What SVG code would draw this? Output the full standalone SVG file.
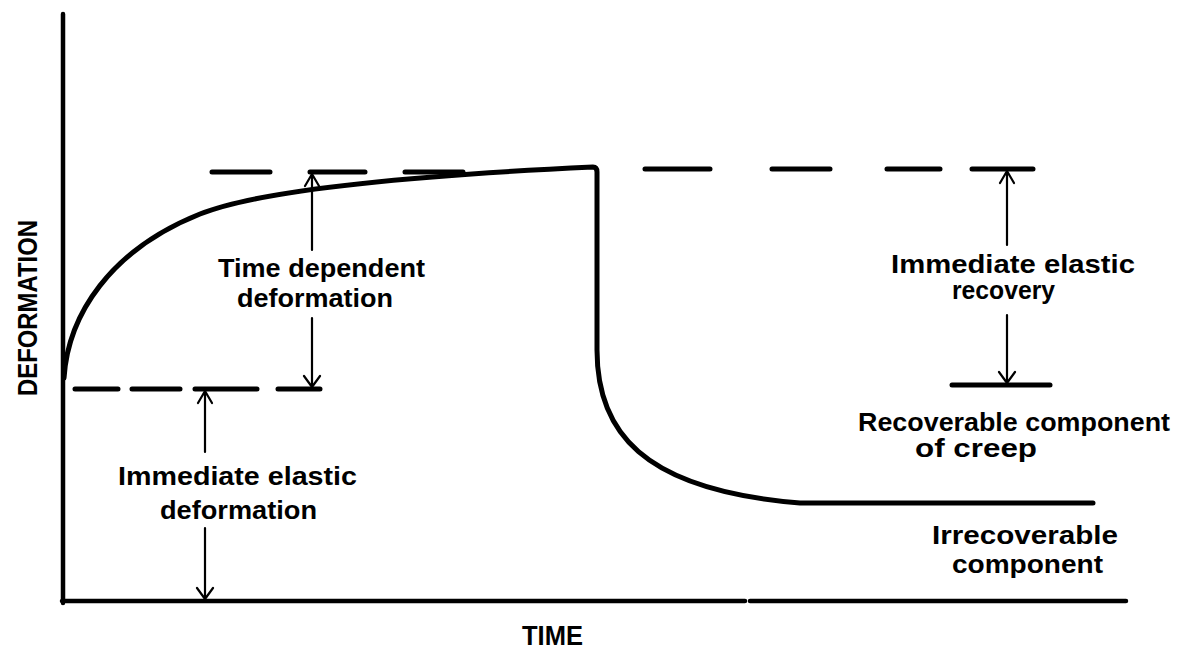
<svg xmlns="http://www.w3.org/2000/svg" width="1184" height="650" viewBox="0 0 1184 650">
<style>
.ax{stroke:#000;stroke-width:4.5;fill:none;stroke-linecap:round}
.cv{stroke:#000;stroke-width:5;fill:none;stroke-linecap:round;stroke-linejoin:round}
.ds{stroke:#000;stroke-width:5;fill:none;stroke-linecap:round}
.ar{stroke:#000;stroke-width:2.2;fill:none;stroke-linecap:round;stroke-linejoin:round}
.t{font-family:"Liberation Sans",Arial,sans-serif;font-weight:bold;font-size:25px;fill:#000}
.big{font-size:27px}
</style>
<rect width="1184" height="650" fill="#fff"/>
<g id="axes">
<path class="ax" d="M63,14 L63,603 M62,601 L745,601 M750,601 L1126,601"/>
<text class="t big" x="522" y="645" textLength="61" lengthAdjust="spacingAndGlyphs">TIME</text>
<text class="t big" transform="translate(37,396) rotate(-90)" x="0" y="0" textLength="176" lengthAdjust="spacingAndGlyphs">DEFORMATION</text>
</g>
<g id="curve">
<path class="cv" d="M64,378 C68,315 110,250 200,214 C260,190 400,176 593,167 Q597,167 597,172 L597,350 C597,430 640,490 800,503 L1093,503"/>
</g>
<g id="dashes">
<path class="ds" d="M75,389 L118,389 M132,389 L180,389 M195,389 L257,389 M278,389 L320,389"/>
<path class="ds" d="M212,172 L270,172 M310,172 L365,172 M405,172 L463,172"/>
<path class="ds" d="M645,169 L710,169 M772,169 L830,169 M887,169 L940,169 M972,169 L1033,169"/>
<path class="ds" d="M952,385 L1050,385"/>
</g>
<g id="connectors">
<path class="ar" d="M312,174 L312,250 M305,186 L312,174 L319,186 M312,318 L312,387 M304,376 L312,387 L320,376"/>
<path class="ar" d="M205,391 L205,452 M198,403 L205,391 L212,403 M205,528 L205,599 M197,588 L205,599 L213,588"/>
<path class="ar" d="M1007,171 L1007,245 M1000,183 L1007,171 L1014,183 M1007,315 L1007,383 M999,372 L1007,383 L1015,372"/>
</g>
<g id="label-time-dependent">
<text class="t" x="218" y="277" textLength="207" lengthAdjust="spacingAndGlyphs">Time dependent</text>
<text class="t" x="237" y="307" textLength="156" lengthAdjust="spacingAndGlyphs">deformation</text>
</g>
<g id="label-immediate-deformation">
<text class="t" x="118" y="485" textLength="239" lengthAdjust="spacingAndGlyphs">Immediate elastic</text>
<text class="t" x="160" y="519" textLength="157" lengthAdjust="spacingAndGlyphs">deformation</text>
</g>
<g id="label-immediate-recovery">
<text class="t" x="891" y="273" textLength="244" lengthAdjust="spacingAndGlyphs">Immediate elastic</text>
<text class="t" x="952" y="299" textLength="103" lengthAdjust="spacingAndGlyphs">recovery</text>
</g>
<g id="label-recoverable">
<text class="t" x="858" y="431" textLength="312" lengthAdjust="spacingAndGlyphs">Recoverable component</text>
<text class="t" x="915" y="457" textLength="122" lengthAdjust="spacingAndGlyphs">of  creep</text>
</g>
<g id="label-irrecoverable">
<text class="t" x="932" y="544" textLength="186" lengthAdjust="spacingAndGlyphs">Irrecoverable</text>
<text class="t" x="952" y="573" textLength="151" lengthAdjust="spacingAndGlyphs">component</text>
</g>
</svg>
